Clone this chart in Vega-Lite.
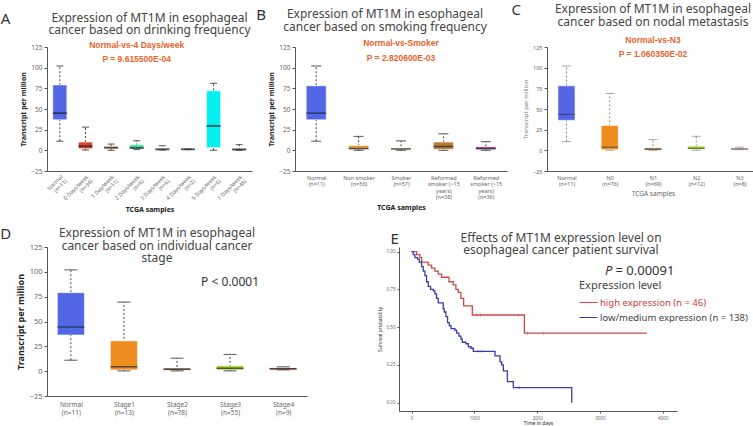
{
  "$schema": "https://vega.github.io/schema/vega-lite/v6.json",
  "background": "white",
  "padding": {"top": 3, "left": 0, "right": 0, "bottom": 0},
  "config": {
    "view": {"stroke": null},
    "font": "Noto Sans",
    "axis": {"domainColor": "#555", "tickColor": "#555", "labelColor": "#666", "labelFontSize": 6.5, "titleFontSize": 7, "titleColor": "#222", "grid": false, "tickSize": 3, "labelPadding": 2, "titlePadding": 4, "labelOverlap": false},
    "title": {"fontSize": 12, "fontWeight": "normal", "color": "#444", "lineHeight": 12.5, "font": "Noto Sans"}
  },
  "datasets": {
    "A": [
      {"cat": "Normal|(n=11)", "min": 11, "q1": 37, "med": 45, "q3": 79, "max": 102},
      {"cat": "0 Days/week|(n=34)", "min": 0.4, "q1": 2, "med": 5, "q3": 10, "max": 28},
      {"cat": "1 Day/week|(n=11)", "min": 0, "q1": 2, "med": 3.2, "q3": 4.5, "max": 7.6},
      {"cat": "2 Days/week|(n=6)", "min": 1, "q1": 1.6, "med": 3, "q3": 6.8, "max": 11.6},
      {"cat": "3 Days/week|(n=6)", "min": 0.4, "q1": 0.8, "med": 1.2, "q3": 1.8, "max": 5.6},
      {"cat": "4 Days/week|(n=2)", "min": 1, "q1": 1.1, "med": 1.3, "q3": 1.5, "max": 1.6},
      {"cat": "5 Days/week|(n=6)", "min": 0, "q1": 3.5, "med": 29.5, "q3": 72, "max": 81},
      {"cat": "7 Days/week|(n=48)", "min": 0, "q1": 0.5, "med": 1, "q3": 1.8, "max": 7}
    ],
    "B": [
      {"cat": "Normal|(n=11)", "min": 11, "q1": 37, "med": 45, "q3": 78, "max": 102},
      {"cat": "Non smoker|(n=56)", "min": 0, "q1": 1.3, "med": 2.1, "q3": 5.9, "max": 16.8},
      {"cat": "Smoker|(n=57)", "min": 0, "q1": 0.8, "med": 1.7, "q3": 2.5, "max": 11.4},
      {"cat": "Reformed|smoker (<15|years)|(n=38)", "min": 0, "q1": 1.3, "med": 4.6, "q3": 10, "max": 20},
      {"cat": "Reformed|smoker (>15|years)|(n=36)", "min": 0, "q1": 1.3, "med": 2.1, "q3": 4.2, "max": 10.5}
    ],
    "C": [
      {"cat": "Normal|(n=11)", "min": 10.6, "q1": 36.3, "med": 43.5, "q3": 78, "max": 102},
      {"cat": "N0|(n=76)", "min": 0, "q1": 0.8, "med": 3.8, "q3": 30, "max": 68.8},
      {"cat": "N1|(n=69)", "min": 0, "q1": 0.4, "med": 1.3, "q3": 3, "max": 13},
      {"cat": "N2|(n=12)", "min": 0, "q1": 1.3, "med": 2.5, "q3": 5, "max": 17},
      {"cat": "N3|(n=8)", "min": 0.8, "q1": 0.8, "med": 1.7, "q3": 2.1, "max": 3.8}
    ],
    "D": [
      {"cat": "Normal|(n=11)", "min": 11, "q1": 36.5, "med": 44.4, "q3": 79, "max": 102},
      {"cat": "Stage1|(n=13)", "min": 0.3, "q1": 1.3, "med": 4.4, "q3": 30.5, "max": 69.5},
      {"cat": "Stage2|(n=78)", "min": 0.3, "q1": 1, "med": 1.9, "q3": 3.2, "max": 13},
      {"cat": "Stage3|(n=55)", "min": 0.3, "q1": 1.3, "med": 2.9, "q3": 5.4, "max": 16.8},
      {"cat": "Stage4|(n=9)", "min": 1.3, "q1": 1.3, "med": 2.5, "q3": 3.2, "max": 4.4}
    ],
    "E": [
      {"t": 0, "s": 1.0, "g": "high expression (n = 46)"},
      {"t": 80, "s": 0.98, "g": "high expression (n = 46)"},
      {"t": 133, "s": 0.96, "g": "high expression (n = 46)"},
      {"t": 160, "s": 0.93, "g": "high expression (n = 46)"},
      {"t": 266, "s": 0.91, "g": "high expression (n = 46)"},
      {"t": 319, "s": 0.89, "g": "high expression (n = 46)"},
      {"t": 372, "s": 0.87, "g": "high expression (n = 46)"},
      {"t": 426, "s": 0.85, "g": "high expression (n = 46)"},
      {"t": 479, "s": 0.83, "g": "high expression (n = 46)"},
      {"t": 596, "s": 0.80, "g": "high expression (n = 46)"},
      {"t": 665, "s": 0.78, "g": "high expression (n = 46)"},
      {"t": 707, "s": 0.75, "g": "high expression (n = 46)"},
      {"t": 745, "s": 0.73, "g": "high expression (n = 46)"},
      {"t": 787, "s": 0.69, "g": "high expression (n = 46)"},
      {"t": 830, "s": 0.64, "g": "high expression (n = 46)"},
      {"t": 968, "s": 0.58, "g": "high expression (n = 46)"},
      {"t": 1798, "s": 0.46, "g": "high expression (n = 46)"},
      {"t": 3750, "s": 0.46, "g": "high expression (n = 46)"},
      {"t": 0, "s": 1.0, "g": "low/medium expression (n = 138)"},
      {"t": 27, "s": 0.98, "g": "low/medium expression (n = 138)"},
      {"t": 53, "s": 0.96, "g": "low/medium expression (n = 138)"},
      {"t": 96, "s": 0.95, "g": "low/medium expression (n = 138)"},
      {"t": 122, "s": 0.93, "g": "low/medium expression (n = 138)"},
      {"t": 160, "s": 0.90, "g": "low/medium expression (n = 138)"},
      {"t": 186, "s": 0.87, "g": "low/medium expression (n = 138)"},
      {"t": 213, "s": 0.84, "g": "low/medium expression (n = 138)"},
      {"t": 239, "s": 0.80, "g": "low/medium expression (n = 138)"},
      {"t": 266, "s": 0.77, "g": "low/medium expression (n = 138)"},
      {"t": 303, "s": 0.75, "g": "low/medium expression (n = 138)"},
      {"t": 346, "s": 0.74, "g": "low/medium expression (n = 138)"},
      {"t": 372, "s": 0.72, "g": "low/medium expression (n = 138)"},
      {"t": 399, "s": 0.69, "g": "low/medium expression (n = 138)"},
      {"t": 426, "s": 0.66, "g": "low/medium expression (n = 138)"},
      {"t": 505, "s": 0.62, "g": "low/medium expression (n = 138)"},
      {"t": 521, "s": 0.60, "g": "low/medium expression (n = 138)"},
      {"t": 548, "s": 0.57, "g": "low/medium expression (n = 138)"},
      {"t": 574, "s": 0.53, "g": "low/medium expression (n = 138)"},
      {"t": 601, "s": 0.51, "g": "low/medium expression (n = 138)"},
      {"t": 628, "s": 0.49, "g": "low/medium expression (n = 138)"},
      {"t": 690, "s": 0.48, "g": "low/medium expression (n = 138)"},
      {"t": 718, "s": 0.46, "g": "low/medium expression (n = 138)"},
      {"t": 755, "s": 0.44, "g": "low/medium expression (n = 138)"},
      {"t": 787, "s": 0.42, "g": "low/medium expression (n = 138)"},
      {"t": 809, "s": 0.40, "g": "low/medium expression (n = 138)"},
      {"t": 867, "s": 0.39, "g": "low/medium expression (n = 138)"},
      {"t": 904, "s": 0.37, "g": "low/medium expression (n = 138)"},
      {"t": 947, "s": 0.36, "g": "low/medium expression (n = 138)"},
      {"t": 984, "s": 0.34, "g": "low/medium expression (n = 138)"},
      {"t": 1330, "s": 0.31, "g": "low/medium expression (n = 138)"},
      {"t": 1410, "s": 0.27, "g": "low/medium expression (n = 138)"},
      {"t": 1436, "s": 0.25, "g": "low/medium expression (n = 138)"},
      {"t": 1463, "s": 0.21, "g": "low/medium expression (n = 138)"},
      {"t": 1527, "s": 0.14, "g": "low/medium expression (n = 138)"},
      {"t": 1622, "s": 0.10, "g": "low/medium expression (n = 138)"},
      {"t": 2553, "s": 0.10, "g": "low/medium expression (n = 138)"},
      {"t": 2553, "s": 0.0, "g": "low/medium expression (n = 138)"}
    ],
    "Ecens": [
      {"t": 1040, "s": 0.58, "g": "high expression (n = 46)"},
      {"t": 1100, "s": 0.58, "g": "high expression (n = 46)"},
      {"t": 1700, "s": 0.58, "g": "high expression (n = 46)"},
      {"t": 1850, "s": 0.46, "g": "high expression (n = 46)"},
      {"t": 2100, "s": 0.46, "g": "high expression (n = 46)"},
      {"t": 1060, "s": 0.34, "g": "low/medium expression (n = 138)"},
      {"t": 1120, "s": 0.34, "g": "low/medium expression (n = 138)"},
      {"t": 1710, "s": 0.10, "g": "low/medium expression (n = 138)"}
    ]
  },
  "spacing": 14,
  "resolve": {"scale": {"color": "independent", "x": "independent", "y": "independent"}, "legend": {"color": "independent"}},
  "vconcat": [
    {
      "spacing": 4,
      "resolve": {"scale": {"color": "independent", "x": "independent", "y": "independent"}, "legend": {"color": "independent"}},
      "hconcat": [
        {
          "title": {"text": "A", "orient": "left", "anchor": "end", "angle": 0, "fontSize": 15, "color": "#333", "baseline": "top", "offset": 0},
          "resolve": {"scale": {"color": "independent"}},
          "hconcat": [
            {
              "width": 205, "height": 124,
              "title": {"text": ["Expression of MT1M in esophageal", "cancer based on drinking frequency"], "offset": 4, "frame": "group"},
              "data": {"name": "A"},
              "encoding": {
                "x": {"field": "cat", "type": "nominal", "sort": null, "scale": {"type": "point", "padding": 0.5},
                  "axis": {"title": "TCGA samples", "titleFontWeight": "bold", "titleFontSize": 7, "labelAngle": -45, "labelFontSize": 5.5, "labelLineHeight": 6, "labelExpr": "split(datum.label, '|')", "ticks": false, "labelPadding": 3, "titlePadding": 0}}
              },
              "layer": [
                {"mark": {"type": "rule", "strokeDash": [2, 2], "color": "#444"},
                  "encoding": {"y": {"field": "min", "type": "quantitative", "scale": {"domain": [-25, 125], "nice": false, "zero": false},
                    "axis": {"title": "Transcript per million", "titleFontWeight": "bold", "values": [-25, 0, 25, 50, 75, 100, 125], "tickCount": 10, "format": "d", "labelOverlap": false, "labelBound": false}}, "y2": {"field": "max"}}},
                {"mark": {"type": "bar", "size": 14, "stroke": "white", "strokeOpacity": 0.5},
                  "encoding": {"y": {"field": "q1", "type": "quantitative"}, "y2": {"field": "q3"},
                    "color": {"field": "cat", "type": "nominal", "legend": null, "scale": {"domain": ["Normal|(n=11)", "0 Days/week|(n=34)", "1 Day/week|(n=11)", "2 Days/week|(n=6)", "3 Days/week|(n=6)", "4 Days/week|(n=2)", "5 Days/week|(n=6)", "7 Days/week|(n=48)"], "range": ["#5366e6", "#ea3f2a", "#e8982f", "#40e89c", "#333333", "#222222", "#00f0f0", "#333333"]}}}},
                {"mark": {"type": "tick", "size": 14, "thickness": 2, "color": "#1c2a3a"}, "encoding": {"y": {"field": "med", "type": "quantitative"}}},
                {"mark": {"type": "tick", "size": 7, "thickness": 1.2, "color": "#333"}, "encoding": {"y": {"field": "min", "type": "quantitative"}}},
                {"mark": {"type": "tick", "size": 7, "thickness": 1.2, "color": "#333"}, "encoding": {"y": {"field": "max", "type": "quantitative"}}},
                {"data": {"values": [{"cat": "2 Days/week|(n=6)", "v": 127, "t": "Normal-vs-4 Days/week"}, {"cat": "2 Days/week|(n=6)", "v": 110, "t": "P = 9.615500E-04"}]},
                  "mark": {"type": "text", "color": "#e8622a", "fontWeight": "bold", "fontSize": 8.5, "font": "Liberation Sans"},
                  "encoding": {"y": {"field": "v", "type": "quantitative"}, "text": {"field": "t"}}}
              ]
            }
          ]
        },
        {
          "title": {"text": "B", "orient": "left", "anchor": "end", "angle": 0, "fontSize": 15, "color": "#333", "baseline": "top", "offset": -8},
          "resolve": {"scale": {"color": "independent"}},
          "hconcat": [
            {
              "width": 212, "height": 124,
              "title": {"text": ["Expression of MT1M in esophageal", "cancer based on smoking frequency"], "offset": 5, "frame": "group", "dx": -16},
              "data": {"name": "B"},
              "encoding": {
                "x": {"field": "cat", "type": "nominal", "sort": null, "scale": {"type": "point", "padding": 0.5},
                  "axis": {"title": "TCGA samples", "titleFontWeight": "bold", "titleFontSize": 7, "labelAngle": 0, "labelFontSize": 5.5, "labelLineHeight": 6.5, "labelExpr": "split(datum.label, '|')", "ticks": false, "labelPadding": 4, "titlePadding": 3}}
              },
              "layer": [
                {"mark": {"type": "rule", "strokeDash": [2, 2], "color": "#444"},
                  "encoding": {"y": {"field": "min", "type": "quantitative", "scale": {"domain": [-25, 125], "nice": false, "zero": false},
                    "axis": {"title": "Transcript per million", "titleFontWeight": "bold", "values": [-25, 0, 25, 50, 75, 100, 125], "tickCount": 10, "format": "d", "labelOverlap": false, "labelBound": false}}, "y2": {"field": "max"}}},
                {"mark": {"type": "bar", "size": 20, "stroke": "white", "strokeOpacity": 0.5},
                  "encoding": {"y": {"field": "q1", "type": "quantitative"}, "y2": {"field": "q3"},
                    "color": {"field": "cat", "type": "nominal", "legend": null, "scale": {"domain": ["Normal|(n=11)", "Non smoker|(n=56)", "Smoker|(n=57)", "Reformed|smoker (<15|years)|(n=38)", "Reformed|smoker (>15|years)|(n=36)"], "range": ["#5366e6", "#e59a3a", "#a6d020", "#b87a35", "#a0287e"]}}}},
                {"mark": {"type": "tick", "size": 20, "thickness": 1.5, "color": "#1c2a3a"}, "encoding": {"y": {"field": "med", "type": "quantitative"}}},
                {"mark": {"type": "tick", "size": 10, "thickness": 1.2, "color": "#333"}, "encoding": {"y": {"field": "min", "type": "quantitative"}}},
                {"mark": {"type": "tick", "size": 10, "thickness": 1.2, "color": "#333"}, "encoding": {"y": {"field": "max", "type": "quantitative"}}},
                {"data": {"values": [{"cat": "Smoker|(n=57)", "v": 130, "t": "Normal-vs-Smoker"}, {"cat": "Smoker|(n=57)", "v": 112, "t": "P = 2.820600E-03"}]},
                  "mark": {"type": "text", "color": "#e8622a", "fontWeight": "bold", "fontSize": 8.5, "font": "Liberation Sans"},
                  "encoding": {"y": {"field": "v", "type": "quantitative"}, "text": {"field": "t"}}}
              ]
            }
          ]
        },
        {
          "title": {"text": "C", "orient": "left", "anchor": "end", "angle": 0, "fontSize": 15, "color": "#333", "baseline": "top", "offset": -8},
          "resolve": {"scale": {"color": "independent"}},
          "hconcat": [
            {
              "width": 212, "height": 124,
              "title": {"text": ["Expression of MT1M in esophageal", "cancer based on nodal metastasis"], "offset": 7, "frame": "group"},
              "data": {"name": "C"},
              "encoding": {
                "x": {"field": "cat", "type": "nominal", "sort": null, "scale": {"type": "point", "padding": 0.45},
                  "axis": {"title": "TCGA samples", "titleFontWeight": "normal", "titleColor": "#666", "titleFontSize": 6.5, "labelAngle": 0, "labelFontSize": 5.5, "labelLineHeight": 6.5, "labelExpr": "split(datum.label, '|')", "ticks": false, "labelPadding": 4, "titlePadding": 3}}
              },
              "layer": [
                {"mark": {"type": "rule", "strokeDash": [2, 2], "color": "#888"},
                  "encoding": {"y": {"field": "min", "type": "quantitative", "scale": {"domain": [-25, 125], "nice": false, "zero": false},
                    "axis": {"title": "Transcript per million", "titleFontWeight": "normal", "titleColor": "#777", "titleFontSize": 6, "labelFontSize": 5.5, "values": [-25, 0, 25, 50, 75, 100, 125], "tickCount": 10, "format": "d", "labelOverlap": false, "labelBound": false}}, "y2": {"field": "max"}}},
                {"mark": {"type": "bar", "size": 17, "stroke": "white", "strokeOpacity": 0.5},
                  "encoding": {"y": {"field": "q1", "type": "quantitative"}, "y2": {"field": "q3"},
                    "color": {"field": "cat", "type": "nominal", "legend": null, "scale": {"domain": ["Normal|(n=11)", "N0|(n=76)", "N1|(n=69)", "N2|(n=12)", "N3|(n=8)"], "range": ["#5366e6", "#ef8c1f", "#a8703a", "#a6d020", "#d03a28"]}}}},
                {"mark": {"type": "tick", "size": 17, "thickness": 1, "color": "#333"}, "encoding": {"y": {"field": "med", "type": "quantitative"}}},
                {"mark": {"type": "tick", "size": 9, "thickness": 1, "color": "#888"}, "encoding": {"y": {"field": "min", "type": "quantitative"}}},
                {"mark": {"type": "tick", "size": 9, "thickness": 1, "color": "#888"}, "encoding": {"y": {"field": "max", "type": "quantitative"}}},
                {"data": {"values": [{"cat": "N1|(n=69)", "v": 134, "t": "Normal-vs-N3"}, {"cat": "N1|(n=69)", "v": 116, "t": "P = 1.060350E-02"}]},
                  "mark": {"type": "text", "color": "#e8622a", "fontWeight": "bold", "fontSize": 8.5, "font": "Liberation Sans"},
                  "encoding": {"y": {"field": "v", "type": "quantitative"}, "text": {"field": "t"}}}
              ]
            }
          ]
        }
      ]
    },
    {
      "spacing": 70,
      "resolve": {"scale": {"color": "independent", "x": "independent", "y": "independent"}, "legend": {"color": "independent"}},
      "hconcat": [
        {
          "title": {"text": "D", "orient": "left", "anchor": "end", "angle": 0, "fontSize": 15, "color": "#333", "baseline": "top", "offset": -6},
          "resolve": {"scale": {"color": "independent"}},
          "hconcat": [
            {
              "width": 260, "height": 149,
              "title": {"text": ["Expression of MT1M in esophageal", "cancer based on individual cancer", "stage"], "offset": -22, "frame": "group", "dx": -20},
              "data": {"name": "D"},
              "encoding": {
                "x": {"field": "cat", "type": "nominal", "sort": null, "scale": {"type": "point", "padding": 0.45},
                  "axis": {"title": null, "labelAngle": 0, "labelFontSize": 6.5, "labelLineHeight": 8, "labelExpr": "split(datum.label, '|')", "ticks": false, "labelPadding": 5}}
              },
              "layer": [
                {"mark": {"type": "rule", "strokeDash": [2, 2], "color": "#444"},
                  "encoding": {"y": {"field": "min", "type": "quantitative", "scale": {"domain": [-25, 125], "nice": false, "zero": false},
                    "axis": {"title": "Transcript per million", "titleFontWeight": "bold", "titleFontSize": 9, "labelFontSize": 7.5, "values": [-25, 0, 25, 50, 75, 100, 125], "tickCount": 10, "format": "d", "labelOverlap": false, "labelBound": false}}, "y2": {"field": "max"}}},
                {"mark": {"type": "bar", "size": 27, "stroke": "white", "strokeOpacity": 0.5},
                  "encoding": {"y": {"field": "q1", "type": "quantitative"}, "y2": {"field": "q3"},
                    "color": {"field": "cat", "type": "nominal", "legend": null, "scale": {"domain": ["Normal|(n=11)", "Stage1|(n=13)", "Stage2|(n=78)", "Stage3|(n=55)", "Stage4|(n=9)"], "range": ["#5366e6", "#ef8c1f", "#b07a35", "#a6d020", "#d83a20"]}}}},
                {"mark": {"type": "tick", "size": 27, "thickness": 1.5, "color": "#1c2a3a"}, "encoding": {"y": {"field": "med", "type": "quantitative"}}},
                {"mark": {"type": "tick", "size": 13, "thickness": 1.2, "color": "#333"}, "encoding": {"y": {"field": "min", "type": "quantitative"}}},
                {"mark": {"type": "tick", "size": 13, "thickness": 1.2, "color": "#333"}, "encoding": {"y": {"field": "max", "type": "quantitative"}}},
                {"data": {"values": [{"cat": "Stage3|(n=55)", "v": 90, "t": "P < 0.0001"}]},
                  "mark": {"type": "text", "color": "#333", "fontSize": 12},
                  "encoding": {"y": {"field": "v", "type": "quantitative"}, "text": {"field": "t"}}}
              ]
            }
          ]
        },
        {
          "title": {"text": "E", "orient": "left", "anchor": "end", "angle": 0, "fontSize": 15, "color": "#333", "baseline": "top", "offset": -30},
          "resolve": {"scale": {"color": "independent"}},
          "hconcat": [
            {
              "width": 278, "height": 164,
              "title": {"text": ["Effects of MT1M expression level on", "esophageal cancer patient survival"], "offset": -10, "frame": "group", "dx": 23},
              "layer": [
                {"data": {"name": "E"},
                  "mark": {"type": "line", "interpolate": "step-after", "strokeWidth": 1.3},
                  "encoding": {
                    "x": {"field": "t", "type": "quantitative", "scale": {"domain": [-200, 4230], "nice": false, "zero": false},
                      "axis": {"title": "Time in days", "titleFontSize": 5, "titleFontWeight": "normal", "labelFontSize": 4.5, "values": [0, 1000, 2000, 3000, 4000], "tickCount": 10, "format": "d", "tickSize": 2, "titlePadding": 1}},
                    "y": {"field": "s", "type": "quantitative", "scale": {"domain": [-0.055, 1.03], "nice": false, "zero": false},
                      "axis": {"title": "Survival probability", "titleFontSize": 5, "titleFontWeight": "normal", "labelFontSize": 4.5, "values": [0, 0.25, 0.5, 0.75, 1], "tickCount": 10, "format": ".2f", "tickSize": 2, "labelOverlap": false}},
                    "color": {"field": "g", "type": "nominal", "scale": {"domain": ["high expression (n = 46)", "low/medium expression (n = 138)"], "range": ["#cc4848", "#3b3ba8"]},
                      "legend": {"title": "Expression level", "orient": "none", "legendX": 180, "legendY": 33, "titleFontSize": 11, "titleFontWeight": "normal", "titleColor": "#444", "titleAlign": "left", "titleAnchor": "start", "labelFontSize": 9.5, "labelLimit": 0, "symbolType": "stroke", "symbolSize": 324, "symbolStrokeWidth": 1, "rowPadding": 1, "titlePadding": 2, "labelOffset": 2,
                        "encode": {"labels": {"update": {"fill": {"signal": "datum.value === 'high expression (n = 46)' ? '#d03a3a' : '#444444'"}}}, "symbols": {"update": {"stroke": {"signal": "datum.value === 'high expression (n = 46)' ? '#d03a3a' : '#777777'"}}}}}}
                  }},
                {"data": {"name": "Ecens"},
                  "mark": {"type": "tick", "orient": "vertical", "size": 3, "thickness": 0.8},
                  "encoding": {"x": {"field": "t", "type": "quantitative"}, "y": {"field": "s", "type": "quantitative"}, "color": {"field": "g", "type": "nominal"}}},
                {"data": {"values": [{"x": 3200, "y": 0.87, "t": "P"}]},
                  "mark": {"type": "text", "align": "right", "fontSize": 13, "fontStyle": "italic", "color": "#333"},
                  "encoding": {"x": {"field": "x", "type": "quantitative"}, "y": {"field": "y", "type": "quantitative"}, "text": {"field": "t"}}},
                {"data": {"values": [{"x": 3250, "y": 0.87, "t": "= 0.00091"}]},
                  "mark": {"type": "text", "align": "left", "fontSize": 13, "color": "#333"},
                  "encoding": {"x": {"field": "x", "type": "quantitative"}, "y": {"field": "y", "type": "quantitative"}, "text": {"field": "t"}}}
              ]
            }
          ]
        }
      ]
    }
  ]
}
